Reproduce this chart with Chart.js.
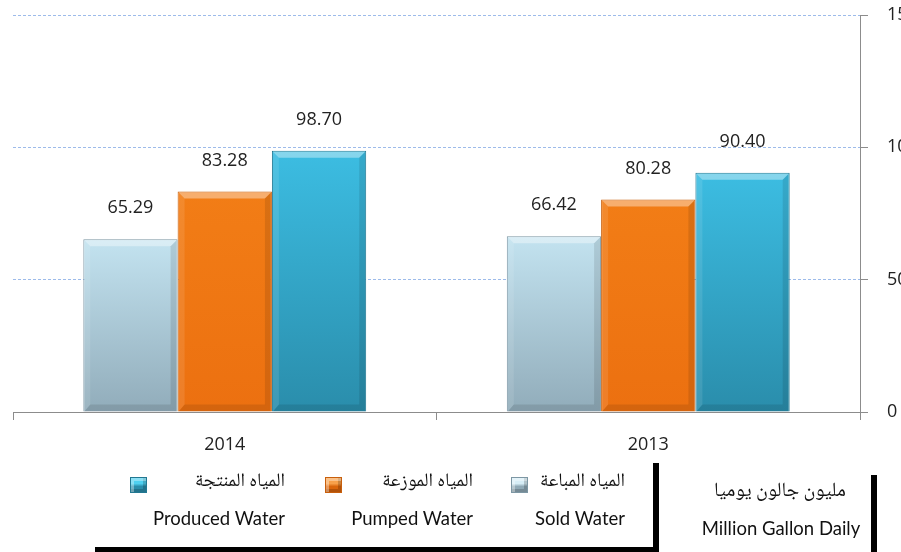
<!DOCTYPE html>
<html>
<head>
<meta charset="utf-8">
<script src="https://cdn.jsdelivr.net/npm/chart.js@4.4.1/dist/chart.umd.min.js"></script>
<style>
  html, body { margin: 0; padding: 0; background: #ffffff; overflow: hidden; }
  #wrap { position: relative; width: 901px; height: 552px; }
  #chart { position: absolute; left: 0; top: 0; }
  .lg { position: absolute; white-space: nowrap; color: #111; }
  .ar { font-family: "Noto Naskh Arabic", "Noto Sans Arabic", "DejaVu Sans", sans-serif; font-size: 19px; line-height: 24px; height: 24px; direction: rtl; }
  .ar.big { font-size: 20px; }
  .en { font-family: Lato, "Open Sans", sans-serif; font-size: 18.5px; line-height: 24px; height: 24px; }
  .sw { position: absolute; width: 17px; height: 16px; box-sizing: border-box; }
  .rule { position: absolute; background: #000; }
</style>
</head>
<body>
<div id="wrap">
  <canvas id="chart" width="901" height="552"></canvas>
  <div id="legend"></div>
</div>
<script>
// ---- data ----
const categories = ['2014', '2013'];
const soldWater = [65.29, 66.42];
const pumpedWater = [83.28, 80.28];
const producedWater = [98.70, 90.40];
const yTickValues = [0, 50, 100, 150];
const seriesNamesEn = ['Sold Water', 'Pumped Water', 'Produced Water'];
const seriesNamesAr = ['المياه المباعة', 'المياه الموزعة', 'المياه المنتجة'];
const unitAr = 'مليون جالون يوميا';
const unitEn = 'Million Gallon Daily';

// ---- styles ----
const seriesStyles = [
  { top: '#c3e3f0', bottom: '#91acba', border: '#7d97a4', swatch: ['#d6edf6', '#8fa9b6'] },
  { top: '#f27d16', bottom: '#ec7010', border: '#c85f0c', swatch: ['#f7a04a', '#d9650b'] },
  { top: '#3cbde2', bottom: '#2a8dab', border: '#227892', swatch: ['#4fd0f0', '#2a8dab'] }
];

function gradientFor(idx) {
  return function (ctx) {
    const chart = ctx.chart;
    if (!chart.chartArea || ctx.type !== 'data') return seriesStyles[idx].top;
    const ys = chart.scales.y;
    const t = ys.getPixelForValue(ctx.raw);
    const b = ys.getPixelForValue(0);
    const g = chart.ctx.createLinearGradient(0, t, 0, b);
    g.addColorStop(0, seriesStyles[idx].top);
    g.addColorStop(1, seriesStyles[idx].bottom);
    return g;
  };
}

const seriesValues = [soldWater, pumpedWater, producedWater];
const datasets = seriesValues.map((vals, i) => ({
  label: seriesNamesEn[i],
  data: vals,
  backgroundColor: gradientFor(i),
  borderColor: seriesStyles[i].border,
  borderWidth: 1,
  barPercentage: 1.0,
  categoryPercentage: 0.668
}));

const bevelAndLabels = {
  id: 'bevelAndLabels',
  afterDatasetsDraw(chart) {
    const c = chart.ctx;
    chart.data.datasets.forEach((ds, di) => {
      const meta = chart.getDatasetMeta(di);
      meta.data.forEach((el, i) => {
        const p = el.getProps(['x', 'y', 'base', 'width'], true);
        const l = p.x - p.width / 2, r = p.x + p.width / 2, t = p.y, b = p.base, k = 7;
        c.save();
        const poly = (pts, fill) => {
          c.beginPath();
          c.moveTo(pts[0][0], pts[0][1]);
          for (let j = 1; j < pts.length; j++) c.lineTo(pts[j][0], pts[j][1]);
          c.closePath();
          c.fillStyle = fill;
          c.fill();
        };
        poly([[l + 1, t + 1], [r - 1, t + 1], [r - k, t + k], [l + k, t + k]], 'rgba(255,255,255,0.38)');
        poly([[l + 1, t + 1], [l + k, t + k], [l + k, b - k], [l + 1, b]], 'rgba(255,255,255,0.10)');
        poly([[r - 1, t + 1], [r - k, t + k], [r - k, b - k], [r - 1, b]], 'rgba(0,0,0,0.10)');
        poly([[l + 1, b], [l + k, b - k], [r - k, b - k], [r - 1, b]], 'rgba(0,0,0,0.10)');
        c.restore();
        // value label
        c.save();
        c.font = '18px "Open Sans", sans-serif';
        c.fillStyle = '#222';
        c.textAlign = 'center';
        c.textBaseline = 'middle';
        c.fillText(Number(ds.data[i]).toFixed(2), p.x, t - 31);
        c.restore();
      });
    });
  }
};

new Chart(document.getElementById('chart'), {
  type: 'bar',
  data: { labels: categories, datasets },
  options: {
    responsive: false,
    animation: false,
    events: [],
    layout: { padding: { top: 15, left: 13, right: 0, bottom: 0 } },
    plugins: { legend: { display: false }, tooltip: { enabled: false } },
    scales: {
      x: {
        position: 'bottom',
        grid: { display: true, drawOnChartArea: false, drawTicks: true, tickLength: 8, color: '#8c8c8c', tickColor: '#8c8c8c', offset: true },
        border: { display: true, color: '#8c8c8c', width: 1 },
        ticks: { color: '#222', font: { family: '"Open Sans", sans-serif', size: 18 }, padding: 14 },
        afterFit(scale) { scale.height = 140; }
      },
      y: {
        position: 'right',
        min: 0,
        max: 150,
        afterBuildTicks(scale) { scale.ticks = yTickValues.map(v => ({ value: v })); },
        grid: { color: '#9dbbea', tickColor: '#8c8c8c', tickLength: 8, tickBorderDash: [], lineWidth: 1 },
        border: { display: true, color: '#8c8c8c', width: 1, dash: [3, 2] },
        ticks: { color: '#222', font: { family: '"Open Sans", sans-serif', size: 18 }, padding: 19, align: 'center', crossAlign: 'near' },
        afterFit(scale) { scale.width = 41; scale.paddingTop = 0; scale.paddingBottom = 0; }
      }
    }
  },
  plugins: [bevelAndLabels]
});

// ---- legend (HTML) ----
const legend = document.getElementById('legend');
function addText(cls, text, rightEdge, centerY, center) {
  const d = document.createElement('div');
  d.className = 'lg ' + cls;
  d.textContent = text;
  legend.appendChild(d);
  d.style.top = (centerY - 12) + 'px';
  const w = d.getBoundingClientRect().width;
  if (center !== undefined) {
    d.style.left = (center - w / 2) + 'px';
  } else {
    d.style.left = (rightEdge - w) + 'px';
  }
}
function addSwatch(idx, left, top) {
  const s = document.createElement('div');
  s.className = 'sw';
  const sw = seriesStyles[idx].swatch;
  s.style.left = left + 'px';
  s.style.top = top + 'px';
  s.style.background = 'linear-gradient(180deg,' + sw[0] + ' 0%,' + sw[0] + ' 40%,' + sw[1] + ' 60%,' + sw[1] + ' 100%)';
  s.style.border = '1px solid ' + seriesStyles[idx].border;
  s.style.boxShadow = 'inset 3px 3px 0 rgba(255,255,255,0.35), inset -3px -3px 0 rgba(0,0,0,0.18)';
  legend.appendChild(s);
}
function addRule(left, top, w, h) {
  const r = document.createElement('div');
  r.className = 'rule';
  r.style.left = left + 'px'; r.style.top = top + 'px';
  r.style.width = w + 'px'; r.style.height = h + 'px';
  legend.appendChild(r);
}
// series groups: Produced (left), Pumped (middle), Sold (right)
const groupRight = [625, 473, 285];
const swatchLeft = [511, 325, 130];
for (let i = 0; i < 3; i++) {
  addSwatch(i, swatchLeft[i], 477);
  addText('ar', seriesNamesAr[i], groupRight[i], 482);
  addText('en', seriesNamesEn[i], groupRight[i], 518);
}
addText('ar big', unitAr, 0, 492, 780);
addText('en', unitEn, 0, 528, 781);
addRule(95, 547, 564, 5);
addRule(653, 463, 6, 89);
addRule(871, 475, 6, 77);
</script>
</body>
</html>
